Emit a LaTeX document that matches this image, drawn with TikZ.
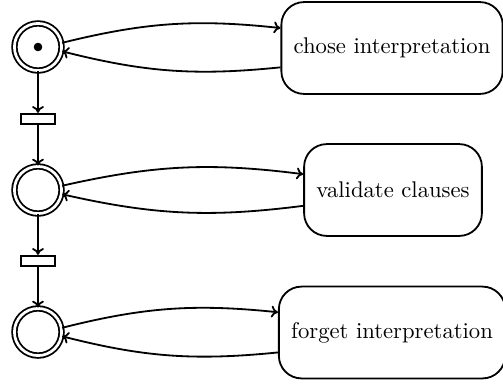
\documentclass[tikz,border=0pt]{standalone}
\usetikzlibrary{arrows.meta}
\begin{document}
\begin{tikzpicture}[x=0.441pt,y=-0.441pt,
  place/.style={circle,draw,thick,double,double distance=1.2pt,minimum size=20.8pt,inner sep=0pt},
  trans/.style={rectangle,draw,thick,minimum width=15pt,minimum height=4.6pt,inner sep=0pt},
  action/.style={rectangle,rounded corners=10pt,draw,thick,minimum height=40.5pt,inner xsep=5.4pt,inner ysep=0pt},
  arc/.style={-{To[length=3pt,width=5.2pt]},thick}]
\useasboundingbox (0,0) rectangle (503,383);
\node[place] (p1) at (38,47) {};
\node[place] (p2) at (38,190) {};
\node[place] (p3) at (38,332) {};
\fill (p1.center) circle (1.9pt);
\node[trans] (t1) at (38,119) {};
\node[trans] (t2) at (38,261) {};
\node[action] (a1) at (392,48) {chose interpretation};
\node[action] (a2) at (393,190) {validate clauses};
\node[action] (a3) at (392,332.5) {forget interpretation};
\draw[arc] (p1) -- (t1);
\draw[arc] (t1) -- (p2);
\draw[arc] (p2) -- (t2);
\draw[arc] (t2) -- (p3);
\draw[arc] (p1) to[bend left=10] (a1);
\draw[arc] (a1) to[bend left=10] (p1);
\draw[arc] (p2) to[bend left=10] (a2);
\draw[arc] (a2) to[bend left=10] (p2);
\draw[arc] (p3) to[bend left=10] (a3);
\draw[arc] (a3) to[bend left=10] (p3);
\end{tikzpicture}
\end{document}
